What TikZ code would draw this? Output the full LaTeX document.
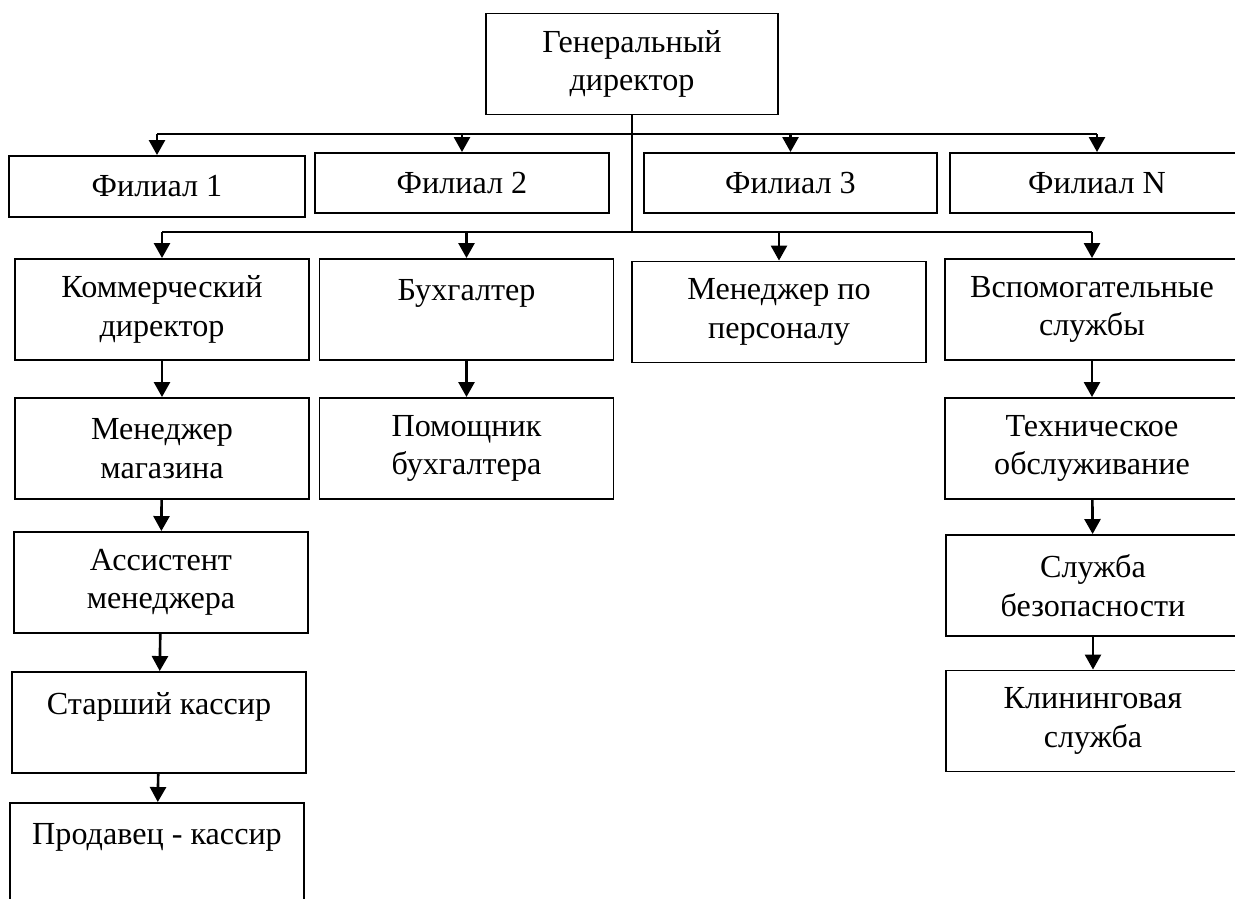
\documentclass[tikz,border=0pt]{standalone}
\usepackage{fontspec}
\setmainfont{Liberation Serif}
\usetikzlibrary{arrows.meta}

\tikzset{
  box/.style={draw, line width=1.1pt, align=center, inner sep=0pt,
    minimum width=5.88cm, minimum height=2.02cm,
    font=\fontsize{18.3}{21.8}\selectfont},
  filbox/.style={box, minimum height=1.2cm},
  link/.style={line width=1.5pt},
  arr/.style={line width=1.5pt, -{Triangle[width=0.32cm,length=0.30cm]}},
}

\begin{document}
\begin{tikzpicture}[x=0.02cm,y=-0.02cm]
\clip (0,0) rectangle (1235,899);

%---------------- Top ----------------
\node[box, minimum width=5.84cm] (gd) at (632,64) {Генеральный\\директор};

%---------------- Branches ----------------
\node[filbox, minimum width=5.92cm, minimum height=1.22cm] (f1) at (157,186.5) {Филиал 1};
\node[filbox] (f2) at (462,183) {Филиал 2};
\node[filbox, minimum width=5.86cm] (f3) at (790.5,183) {Филиал 3};
\node[filbox] (fN) at (1097,183) {Филиал N};

%---------------- Departments ----------------
\node[box] (kd) at (162,309.5) {Коммерческий\\директор};
\node[box] (bh) at (466.5,309.5) {Бухгалтер\\~};
\node[box] (mp) at (779,312) {Менеджер по\\персоналу};
\node[box] (vs) at (1092,309.5) {Вспомогательные\\службы};

% Commercial line
\node[box] (mm) at (162,448.5) {Менеджер\\магазина};
\node[box] (am) at (161,582.5) {Ассистент\\менеджера};
\node[box] (sk) at (159,722.5) {Старший кассир\\~};
\node[box] (pk) at (157,853.5) {Продавец - кассир\\~};

% Accounting
\node[box] (pb) at (466.5,448.5) {Помощник\\бухгалтера};

% Services
\node[box] (to) at (1092,448.5) {Техническое\\обслуживание};
\node[box] (sb) at (1093,585.5) {Служба\\безопасности};
\node[box] (kl) at (1093,721) {Клининговая\\служба};

%---------------- Connectors ----------------
\coordinate (b1) at (632,134);
\coordinate (b2) at (632,232);

\draw[link] (gd.south) -- (b2);
\draw[link] (f1.north |- b1) -- (fN.north |- b1);
\draw[link] (kd.north |- b2) -- (vs.north |- b2);

\foreach \n in {f1,f2,f3,fN}
  \draw[arr] (\n.north |- b1) -- (\n.north);
\foreach \n in {kd,bh,mp,vs}
  \draw[arr] (\n.north |- b2) -- (\n.north);

\draw[arr] (kd) -- (mm);
\draw[arr] (mm) -- (am);
\draw[arr] (am) -- (sk);
\draw[arr] (sk) -- (pk);
\draw[arr] (bh) -- (pb);
\draw[arr] (vs) -- (to);
\draw[arr] (to) -- (sb);
\draw[arr] (sb) -- (kl);

\end{tikzpicture}
\end{document}
